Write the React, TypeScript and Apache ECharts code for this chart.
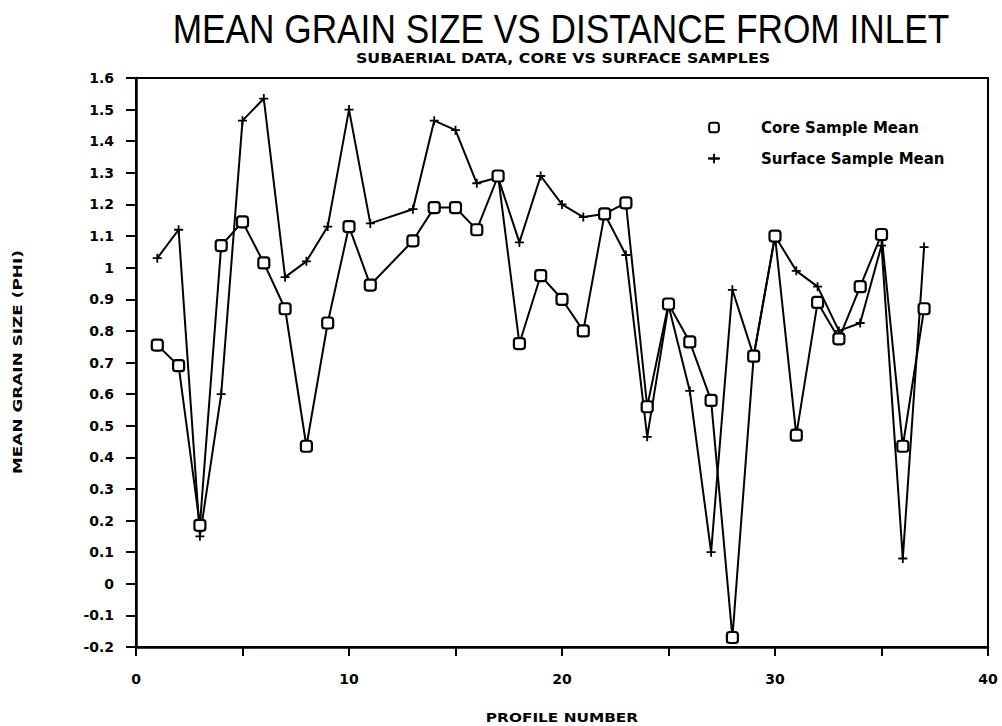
import React, { useEffect, useRef } from "react";
import * as echarts from "echarts";

const profilesCore: number[] = [1, 2, 3, 4, 5, 6, 7, 8, 9, 10, 11, 13, 14, 15, 16, 17, 18, 19, 20, 21, 22, 23, 24, 25, 26, 27, 28, 29, 30, 31, 32, 33, 34, 35, 36, 37];
const coreMean: number[] = [0.755, 0.69, 0.185, 1.07, 1.145, 1.015, 0.87, 0.435, 0.825, 1.13, 0.945, 1.085, 1.19, 1.19, 1.12, 1.29, 0.76, 0.975, 0.9, 0.8, 1.17, 1.205, 0.56, 0.885, 0.765, 0.58, -0.17, 0.72, 1.1, 0.47, 0.89, 0.775, 0.94, 1.105, 0.435, 0.87];

const profilesSurface: number[] = [1, 2, 3, 4, 5, 6, 7, 8, 9, 10, 11, 13, 14, 15, 16, 17, 18, 19, 20, 21, 22, 23, 24, 25, 26, 27, 28, 29, 30, 31, 32, 33, 34, 35, 36, 37];
const surfaceMean: number[] = [1.03, 1.12, 0.15, 0.6, 1.465, 1.535, 0.97, 1.02, 1.13, 1.5, 1.14, 1.185, 1.465, 1.435, 1.267, 1.285, 1.08, 1.29, 1.2, 1.16, 1.17, 1.04, 0.465, 0.88, 0.61, 0.1, 0.93, 0.72, 1.1, 0.99, 0.94, 0.8, 0.825, 1.07, 0.08, 1.065];

const titleText = "MEAN GRAIN SIZE VS DISTANCE FROM INLET";
const subtitleText = "SUBAERIAL DATA, CORE VS SURFACE SAMPLES";
const xName = "PROFILE NUMBER";
const yName = "MEAN GRAIN SIZE (PHI)";
const seriesNames = ["Core Sample Mean", "Surface Sample Mean"];

const PLUS = "path://M4,0 H6 V4 H10 V6 H6 V10 H4 V6 H0 V4 H4 Z";
const FONT = "'DejaVu Sans', sans-serif";

export default function App() {
  const ref = useRef<HTMLDivElement>(null);
  useEffect(() => {
    if (!ref.current) return;
    const chart = echarts.init(ref.current, undefined, { renderer: "svg" });
    chart.setOption({
      animation: false,
      backgroundColor: "#fff",
      grid: {
        left: 136,
        right: 14,
        top: 78,
        bottom: 79,
        show: true,
        borderColor: "#000",
        borderWidth: 2,
        backgroundColor: "transparent",
      },
      graphic: [
        {
          type: "text",
          x: 561,
          y: 29,
          scaleX: 0.86,
          style: {
            text: titleText,
            x: 0,
            y: 0,
            align: "center",
            verticalAlign: "middle",
            fontFamily: "'Liberation Sans', Arial, sans-serif",
            fontSize: 41,
            fontWeight: "normal",
            fill: "#000",
          },
        },
        {
          type: "text",
          x: 563,
          y: 58,
          scaleX: 1.13,
          style: {
            text: subtitleText,
            x: 0,
            y: 0,
            align: "center",
            verticalAlign: "middle",
            fontFamily: FONT,
            fontSize: 14,
            fontWeight: "bold",
            fill: "#000",
          },
        },
        {
          type: "text",
          x: 18,
          y: 362,
          rotation: Math.PI / 2,
          scaleX: 1.3,
          style: {
            text: yName,
            x: 0,
            y: 0,
            align: "center",
            verticalAlign: "middle",
            fontFamily: FONT,
            fontSize: 13,
            fontWeight: "bold",
            fill: "#000",
          },
        },
        {
          type: "text",
          x: 562,
          y: 717,
          scaleX: 1.18,
          style: {
            text: xName,
            x: 0,
            y: 0,
            align: "center",
            verticalAlign: "middle",
            fontFamily: FONT,
            fontSize: 13,
            fontWeight: "bold",
            fill: "#000",
          },
        },
      ],
      legend: {
        orient: "vertical",
        left: 702,
        top: 115,
        itemWidth: 12,
        itemHeight: 12,
        itemGap: 16,
        data: seriesNames,
        textStyle: {
          fontFamily: FONT,
          fontSize: 15,
          fontWeight: "bold",
          color: "#000",
          padding: [0, 0, 0, 36],
        },
      },
      xAxis: {
        type: "value",
        min: 0,
        max: 40,
        interval: 5,
        axisLine: { show: true, onZero: false, lineStyle: { color: "#000", width: 2.5 } },
        axisTick: { show: true, inside: false, length: 9, lineStyle: { color: "#000", width: 2 } },
        axisLabel: {
          margin: 25,
          fontFamily: FONT,
          fontSize: 14,
          fontWeight: "bold",
          color: "#000",
          formatter: (v: number) => (v % 10 === 0 ? String(v) : ""),
        },
        splitLine: { show: false },
      },
      yAxis: {
        type: "value",
        min: -0.2,
        max: 1.6,
        interval: 0.1,
        axisLine: { show: true, onZero: false, lineStyle: { color: "#000", width: 2.5 } },
        axisTick: { show: true, inside: false, length: 10, lineStyle: { color: "#000", width: 2 } },
        axisLabel: {
          margin: 22,
          fontFamily: FONT,
          fontSize: 14,
          fontWeight: "bold",
          color: "#000",
          formatter: (v: number) => String(Math.round(v * 10) / 10),
        },
        splitLine: { show: false },
      },
      series: [
        {
          name: seriesNames[0],
          type: "line",
          data: profilesCore.map((p, i) => [p, coreMean[i]]),
          symbol: "roundRect",
          symbolSize: 11,
          z: 3,
          itemStyle: { color: "#fff", borderColor: "#000", borderWidth: 2.2 },
          lineStyle: { color: "#000", width: 2 },
        },
        {
          name: seriesNames[1],
          type: "line",
          data: profilesSurface.map((p, i) => [p, surfaceMean[i]]),
          symbol: PLUS,
          symbolSize: 9,
          z: 2,
          itemStyle: { color: "#000" },
          lineStyle: { color: "#000", width: 2 },
        },
      ],
    });
    return () => chart.dispose();
  }, []);
  return (
    <div
      ref={ref}
      style={{ position: "fixed", left: 0, top: 0, width: 1002, height: 726, background: "#fff" }}
    />
  );
}
